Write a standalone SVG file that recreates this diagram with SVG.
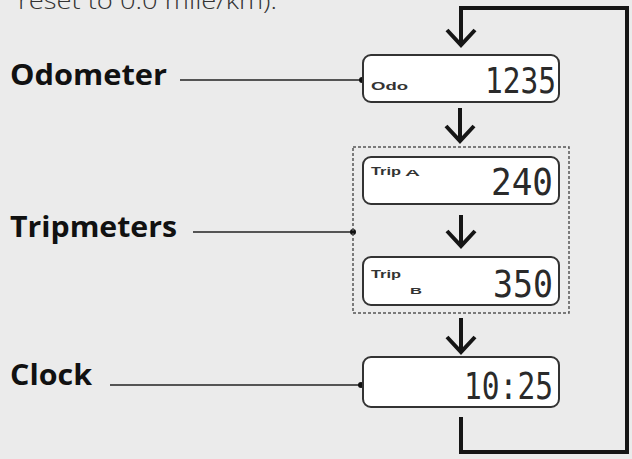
<svg xmlns="http://www.w3.org/2000/svg" width="632" height="459" viewBox="0 0 632 459">
<style>
.lbl{font-family:"Open Sans","Liberation Sans",sans-serif;font-weight:700;font-size:28px;fill:#111}
.box{fill:#fff;stroke:#333;stroke-width:2}
.lead{stroke:#222;stroke-width:1.6;fill:none}
.dot{fill:#111}
.seg{font-family:"DejaVu Sans Mono","Liberation Mono",monospace;fill:#2a2a2a}
.sm{font-family:"Liberation Sans",sans-serif;font-weight:700;fill:#333}
.conn{stroke:#151515;stroke-width:4;fill:none;stroke-linejoin:miter}
</style>
<rect width="632" height="459" fill="#ebebeb"/>
<text x="18" y="9" font-family="Open Sans, Liberation Sans, sans-serif" font-weight="300" font-size="23" fill="#333" textLength="259" lengthAdjust="spacingAndGlyphs">reset to 0.0 mile/km).</text>
<g id="connectors">
<path class="conn" d="M461,417 V452 H627 V8 H461 V45"/>
<path class="conn" d="M447,30 L461,45 L475,30"/>
<path class="conn" d="M460,108 V141"/>
<path class="conn" d="M446,126 L460,141 L474,126"/>
<path class="conn" d="M461,215 V246"/>
<path class="conn" d="M447,231 L461,246 L475,231"/>
<path class="conn" d="M461,318 V352"/>
<path class="conn" d="M447,337 L461,352 L475,337"/>
</g>
<g id="odometer-label">
<text class="lbl" x="10" y="85" textLength="157" lengthAdjust="spacingAndGlyphs">Odometer</text>
<line class="lead" x1="180" y1="80" x2="362" y2="80"/>
<circle class="dot" cx="362" cy="80" r="3"/>
</g>
<g id="tripmeters-label">
<text class="lbl" x="10" y="237" textLength="167" lengthAdjust="spacingAndGlyphs">Tripmeters</text>
<line class="lead" x1="193" y1="232" x2="353" y2="232"/>
<circle class="dot" cx="353" cy="232" r="3"/>
</g>
<g id="clock-label">
<text class="lbl" x="10" y="385" textLength="82" lengthAdjust="spacingAndGlyphs">Clock</text>
<line class="lead" x1="110" y1="385" x2="360" y2="385"/>
<circle class="dot" cx="361" cy="385" r="3"/>
</g>
<g id="odometer">
<rect class="box" x="363" y="55" width="196" height="47" rx="8"/>
<text class="sm" x="371" y="90" font-size="10" textLength="37" lengthAdjust="spacingAndGlyphs">Odo</text>
<text class="seg" x="485" y="93" font-size="36" textLength="71" lengthAdjust="spacingAndGlyphs">1235</text>
</g>
<g id="tripmeters">
<rect x="353" y="147" width="216" height="166" fill="none" stroke="#555" stroke-width="1.5" stroke-dasharray="3,2"/>
<g id="trip-a">
<rect class="box" x="363" y="157" width="196" height="47" rx="8"/>
<text class="sm" x="371" y="175" font-size="10" font-weight="400" textLength="30" lengthAdjust="spacingAndGlyphs">Trip</text>
<text class="sm" x="405" y="176" font-size="9" textLength="15" lengthAdjust="spacingAndGlyphs">A</text>
<text class="seg" x="491" y="195" font-size="38" textLength="62" lengthAdjust="spacingAndGlyphs">240</text>
</g>
<g id="trip-b">
<rect class="box" x="363" y="257" width="196" height="48" rx="8"/>
<text class="sm" x="371" y="278" font-size="10" font-weight="400" textLength="30" lengthAdjust="spacingAndGlyphs">Trip</text>
<text class="sm" x="410" y="294" font-size="9" textLength="12" lengthAdjust="spacingAndGlyphs">B</text>
<text class="seg" x="493" y="297" font-size="38" textLength="60" lengthAdjust="spacingAndGlyphs">350</text>
</g>
</g>
<g id="clock">
<rect class="box" x="363" y="357" width="196" height="50" rx="8"/>
<text class="seg" x="464" y="399" font-size="38" textLength="89" lengthAdjust="spacingAndGlyphs">10:25</text>
</g>
</svg>
